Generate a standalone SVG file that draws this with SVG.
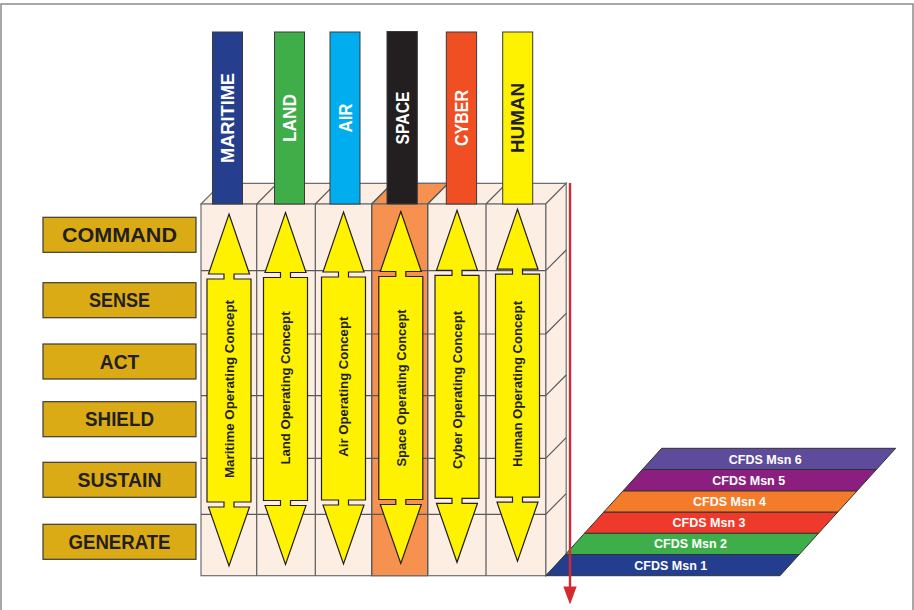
<svg xmlns="http://www.w3.org/2000/svg" xmlns:xlink="http://www.w3.org/1999/xlink" width="914" height="610" viewBox="0 0 914 610">
  <style>
    .frame { fill: #ffffff; stroke: #8a8a8a; stroke-width: 1.5; }
    .face { fill: #fdeee3; stroke: #6d6e71; stroke-width: 1.2; }
    .hot { fill: #f6914f; stroke: #6d6e71; stroke-width: 1.2; }
    .grid { stroke: #58595b; stroke-width: 1.2; fill: none; }
    .bar { stroke: #3a3a3a; stroke-width: 1; }
    .bar-text { font-family: "Liberation Sans", Arial, sans-serif; font-weight: bold; font-size: 18px; text-anchor: middle; }
    .arrow { fill: #fff200; stroke: #231f20; stroke-width: 1.2; stroke-linejoin: miter; }
    .arrow-text { font-family: "Liberation Sans", Arial, sans-serif; font-weight: bold; font-size: 13px; fill: #231f20; text-anchor: middle; }
    .fn-box { fill: #dbab16; stroke: #3d3a35; stroke-width: 1.2; }
    .fn-text { font-family: "Liberation Sans", Arial, sans-serif; font-weight: bold; font-size: 20px; fill: #231f20; text-anchor: middle; }
    .band { stroke: #333333; stroke-width: 1; }
    .band-text { font-family: "Liberation Sans", Arial, sans-serif; font-weight: bold; font-size: 12.5px; fill: #ffffff; text-anchor: middle; }
    .timeline { stroke: #d42a2f; stroke-width: 2.4; fill: none; }
  </style>
  <defs>
    <!-- double-headed arrow, centred on x = 0 -->
    <path id="dblArrow" class="arrow" d="M0,214 L20.5,274 L5,274 L5,279 L22,279 L22,502 L5,502 L5,507 L20.5,507 L0,566 L-20.5,507 L-5,507 L-5,502 L-22,502 L-22,279 L-5,279 L-5,274 L-20.5,274 Z"/>
  </defs>

  <rect class="frame" x="1" y="4" width="912" height="640"/>

  <!-- cube: top face, right face, front face with grid -->
  <g id="cube">
    <polygon class="face" points="201,204 221.5,183.3 566.2,183.3 545.7,204"/>
    <polygon class="hot" points="371.7,204 392.2,183.3 448.2,183.3 427.7,204"/>
    <polygon class="face" points="545.7,204 566.2,183.3 566.2,555 545.7,575.7"/>
    <rect class="face" x="201" y="204" width="344.7" height="371.7"/>
    <rect class="hot" x="371.7" y="204" width="56" height="371.7"/>
    <g class="grid">
      <!-- top face column edges -->
      <line x1="256.7" y1="204" x2="277.2" y2="183.3"/>
      <line x1="315.3" y1="204" x2="335.8" y2="183.3"/>
      <line x1="371.7" y1="204" x2="392.2" y2="183.3"/>
      <line x1="427.7" y1="204" x2="448.2" y2="183.3"/>
      <line x1="486" y1="204" x2="506.5" y2="183.3"/>
      <!-- front face columns -->
      <line x1="256.7" y1="204" x2="256.7" y2="575.7"/>
      <line x1="315.3" y1="204" x2="315.3" y2="575.7"/>
      <line x1="371.7" y1="204" x2="371.7" y2="575.7"/>
      <line x1="427.7" y1="204" x2="427.7" y2="575.7"/>
      <line x1="486" y1="204" x2="486" y2="575.7"/>
      <!-- front face rows -->
      <line x1="201" y1="270.7" x2="545.7" y2="270.7"/>
      <line x1="201" y1="334" x2="545.7" y2="334"/>
      <line x1="201" y1="395.7" x2="545.7" y2="395.7"/>
      <line x1="201" y1="458.3" x2="545.7" y2="458.3"/>
      <line x1="201" y1="514.3" x2="545.7" y2="514.3"/>
      <!-- right face rows -->
      <line x1="545.7" y1="270.7" x2="566.2" y2="250"/>
      <line x1="545.7" y1="334" x2="566.2" y2="313.3"/>
      <line x1="545.7" y1="395.7" x2="566.2" y2="375"/>
      <line x1="545.7" y1="458.3" x2="566.2" y2="437.6"/>
      <line x1="545.7" y1="514.3" x2="566.2" y2="493.6"/>
    </g>
  </g>

  <!-- domain bars standing on the cube -->
  <g id="domain-maritime">
    <rect class="bar" x="212.5" y="32" width="30" height="172" fill="#253f8e"/>
    <text class="bar-text" fill="#ffffff" transform="translate(234,118) rotate(-90)" textLength="90" lengthAdjust="spacingAndGlyphs">MARITIME</text>
  </g>
  <g id="domain-land">
    <rect class="bar" x="274.5" y="32" width="30" height="172" fill="#3fae49"/>
    <text class="bar-text" fill="#ffffff" transform="translate(296,118) rotate(-90)" textLength="48" lengthAdjust="spacingAndGlyphs">LAND</text>
  </g>
  <g id="domain-air">
    <rect class="bar" x="330" y="32" width="30" height="172" fill="#00aeef"/>
    <text class="bar-text" fill="#ffffff" transform="translate(351.5,118) rotate(-90)" textLength="29" lengthAdjust="spacingAndGlyphs">AIR</text>
  </g>
  <g id="domain-space">
    <rect class="bar" x="387" y="31.5" width="30.3" height="172.5" fill="#231f20"/>
    <text class="bar-text" fill="#ffffff" transform="translate(408.6,118) rotate(-90)" textLength="53" lengthAdjust="spacingAndGlyphs">SPACE</text>
  </g>
  <g id="domain-cyber">
    <rect class="bar" x="446.3" y="32" width="30.3" height="172" fill="#f04e23"/>
    <text class="bar-text" fill="#ffffff" transform="translate(467.8,118) rotate(-90)" textLength="56" lengthAdjust="spacingAndGlyphs">CYBER</text>
  </g>
  <g id="domain-human">
    <rect class="bar" x="502.7" y="32" width="30" height="172" fill="#fff200"/>
    <text class="bar-text" fill="#231f20" transform="translate(524.2,118) rotate(-90)" textLength="70" lengthAdjust="spacingAndGlyphs">HUMAN</text>
  </g>

  <!-- operating concept arrows -->
  <g id="concept-maritime">
    <use href="#dblArrow" xlink:href="#dblArrow" transform="translate(229,0)"/>
    <text class="arrow-text" transform="translate(233.7,389) rotate(-90)" textLength="178" lengthAdjust="spacingAndGlyphs">Maritime Operating Concept</text>
  </g>
  <g id="concept-land">
    <use href="#dblArrow" xlink:href="#dblArrow" transform="translate(285.5,-1.5)"/>
    <text class="arrow-text" transform="translate(290.3,388) rotate(-90)" textLength="153" lengthAdjust="spacingAndGlyphs">Land Operating Concept</text>
  </g>
  <g id="concept-air">
    <use href="#dblArrow" xlink:href="#dblArrow" transform="translate(343.5,-2)"/>
    <text class="arrow-text" transform="translate(348.3,386.7) rotate(-90)" textLength="140" lengthAdjust="spacingAndGlyphs">Air Operating Concept</text>
  </g>
  <g id="concept-space">
    <use href="#dblArrow" xlink:href="#dblArrow" transform="translate(400.8,-2.5)"/>
    <text class="arrow-text" transform="translate(405.5,388) rotate(-90)" textLength="157" lengthAdjust="spacingAndGlyphs">Space Operating Concept</text>
  </g>
  <g id="concept-cyber">
    <use href="#dblArrow" xlink:href="#dblArrow" transform="translate(457,-3.7)"/>
    <text class="arrow-text" transform="translate(461.7,390) rotate(-90)" textLength="158" lengthAdjust="spacingAndGlyphs">Cyber Operating Concept</text>
  </g>
  <g id="concept-human">
    <use href="#dblArrow" xlink:href="#dblArrow" transform="translate(517.5,-4.8)"/>
    <text class="arrow-text" transform="translate(522.2,384) rotate(-90)" textLength="166" lengthAdjust="spacingAndGlyphs">Human Operating Concept</text>
  </g>

  <!-- functions -->
  <g id="fn-command">
    <rect class="fn-box" x="43" y="217.3" width="153" height="35"/>
    <text class="fn-text" x="119.5" y="242" textLength="115" lengthAdjust="spacingAndGlyphs">COMMAND</text>
  </g>
  <g id="fn-sense">
    <rect class="fn-box" x="43" y="282.7" width="153" height="35"/>
    <text class="fn-text" x="119.5" y="307.4" textLength="61" lengthAdjust="spacingAndGlyphs">SENSE</text>
  </g>
  <g id="fn-act">
    <rect class="fn-box" x="43" y="344" width="153" height="35"/>
    <text class="fn-text" x="119.5" y="368.7" textLength="39.5" lengthAdjust="spacingAndGlyphs">ACT</text>
  </g>
  <g id="fn-shield">
    <rect class="fn-box" x="43" y="401.7" width="153" height="35"/>
    <text class="fn-text" x="119.5" y="426.4" textLength="69" lengthAdjust="spacingAndGlyphs">SHIELD</text>
  </g>
  <g id="fn-sustain">
    <rect class="fn-box" x="43" y="462.3" width="153" height="35"/>
    <text class="fn-text" x="119.5" y="487" textLength="84" lengthAdjust="spacingAndGlyphs">SUSTAIN</text>
  </g>
  <g id="fn-generate">
    <rect class="fn-box" x="43" y="524.3" width="153" height="35"/>
    <text class="fn-text" x="119.5" y="549" textLength="102" lengthAdjust="spacingAndGlyphs">GENERATE</text>
  </g>

  <!-- mission layers -->
  <g id="msn-1">
    <polygon class="band" fill="#243e8f" points="546,575.7 780,575.7 799.3,554.5 565.3,554.5"/>
    <text class="band-text" x="670.8" y="569.5">CFDS Msn 1</text>
  </g>
  <g id="msn-2">
    <polygon class="band" fill="#3eae4a" points="565.3,554.5 799.3,554.5 818.6,533.2 584.6,533.2"/>
    <text class="band-text" x="690.5" y="548.3">CFDS Msn 2</text>
  </g>
  <g id="msn-3">
    <polygon class="band" fill="#ee3a2a" points="584.6,533.2 818.6,533.2 837.8,512 603.8,512"/>
    <text class="band-text" x="709" y="527.1">CFDS Msn 3</text>
  </g>
  <g id="msn-4">
    <polygon class="band" fill="#f47b29" points="603.8,512 837.8,512 857.1,490.8 623.1,490.8"/>
    <text class="band-text" x="729.5" y="505.9">CFDS Msn 4</text>
  </g>
  <g id="msn-5">
    <polygon class="band" fill="#8b1e7f" points="623.1,490.8 857.1,490.8 876.4,469.5 642.4,469.5"/>
    <text class="band-text" x="748.7" y="484.7">CFDS Msn 5</text>
  </g>
  <g id="msn-6">
    <polygon class="band" fill="#5f4b9b" points="642.4,469.5 876.4,469.5 895.7,448.3 661.7,448.3"/>
    <text class="band-text" x="765.3" y="463.5">CFDS Msn 6</text>
  </g>

  <!-- connectors -->
  <g id="connectors">
    <line class="timeline" x1="570" y1="183" x2="570" y2="588"/>
    <polygon fill="#d42a2f" points="563.3,586.5 576.7,586.5 570,604.5"/>
  </g>
</svg>
